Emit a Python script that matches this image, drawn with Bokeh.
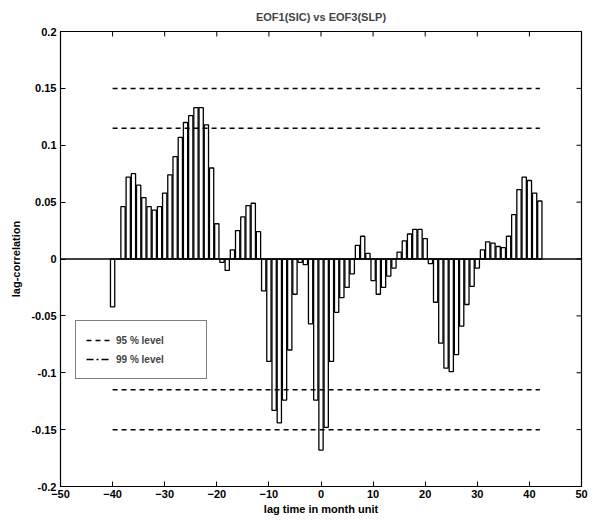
from bokeh.plotting import figure
from bokeh.models import Range1d, Span, Legend, LegendItem, FixedTicker
from bokeh.embed import file_html
from bokeh.resources import INLINE

# ---- data ----
lags = list(range(-40, 43))
corr = [
    -0.042, 0.0, 0.046, 0.072, 0.075, 0.065, 0.054, 0.046, 0.043, 0.046,   # -40..-31
    0.058, 0.074, 0.090, 0.107, 0.120, 0.126, 0.133, 0.133, 0.118, 0.080,  # -30..-21
    0.031, -0.003, -0.010, 0.008, 0.025, 0.037, 0.047, 0.049, 0.024, -0.028,  # -20..-11
    -0.090, -0.133, -0.144, -0.124, -0.080, -0.031, -0.003, -0.005, -0.057, -0.124,  # -10..-1
    -0.168, -0.148, -0.090, -0.047, -0.034, -0.025, -0.013, 0.012, 0.020, 0.005,  # 0..9
    -0.019, -0.031, -0.025, -0.015, -0.008, 0.006, 0.016, 0.022, 0.026, 0.026,  # 10..19
    0.018, -0.004, -0.038, -0.074, -0.096, -0.099, -0.084, -0.059, -0.040, -0.024,  # 20..29
    -0.008, 0.008, 0.015, 0.014, 0.011, 0.010, 0.020, 0.039, 0.061, 0.072,  # 30..39
    0.069, 0.058, 0.051,  # 40..42
]
level95 = 0.115
level99 = 0.15
x_lim = [-50, 50]
y_lim = [-0.2, 0.2]
x_ticks = [-50, -40, -30, -20, -10, 0, 10, 20, 30, 40, 50]
y_ticks = [-0.2, -0.15, -0.1, -0.05, 0, 0.05, 0.1, 0.15, 0.2]
y_tick_labels = ["-0.2", "-0.15", "-0.1", "-0.05", "0", "0.05", "0.1", "0.15", "0.2"]
title = "EOF1(SIC) vs EOF3(SLP)"
x_label = "lag time in month unit"
y_label = "lag-correlation"
legend_labels = ["95 % level", "99 % level"]

FONT = "Liberation Sans"
W, H = 601, 528
BL, BR, BT, BB = 60, 20, 31, 42
FW, FH = W - BL - BR, H - BT - BB
TICK = 5  # px

p = figure(width=W, height=H, output_backend="svg", toolbar_location=None,
           x_range=Range1d(*x_lim), y_range=Range1d(*y_lim),
           min_border_left=BL, min_border_right=BR, min_border_top=BT, min_border_bottom=BB,
           title=title)
p.background_fill_color = "white"
p.border_fill_color = "white"
p.outline_line_color = "black"
p.outline_line_width = 1.2
p.grid.visible = False

p.title.align = "center"
p.title.text_font = FONT
p.title.text_font_size = "11px"
p.title.text_font_style = "bold"
p.title.offset = 0
p.title.standoff = 17

# bars
p.vbar(x=lags, top=corr, bottom=0, width=0.82, fill_color="white",
       line_color="black", line_width=1.3)

# zero line
p.add_layout(Span(location=0, dimension="width", line_color="black", line_width=1.4))

# significance levels
x0, x1 = lags[0], lags[-1]
r95 = p.multi_line(xs=[[x0, x1], [x0, x1]], ys=[[level95, level95], [-level95, -level95]],
                   line_color="black", line_width=1.5, line_dash="5 4")
r99 = p.multi_line(xs=[[x0, x1], [x0, x1]], ys=[[level99, level99], [-level99, -level99]],
                   line_color="black", line_width=1.5, line_dash="5 4")
# legend key for the 99 % line (dash-dot key as in the original legend);
# a single-point line draws nothing in the plot itself
k99 = p.line(x=[x0], y=[level99], line_color="black", line_width=1.5, line_dash="7 3 2 3")

legend = Legend(items=[LegendItem(label=legend_labels[0], renderers=[r95]),
                       LegendItem(label=legend_labels[1], renderers=[k99])],
                location=(15, 107))
legend.border_line_color = "black"
legend.border_line_width = 1.2
legend.background_fill_color = "white"
legend.background_fill_alpha = 1
legend.label_text_font = FONT
legend.label_text_font_size = "10px"
legend.label_text_font_style = "bold"
legend.glyph_width = 24
legend.glyph_height = 18
legend.label_height = 18
legend.label_width = 80
legend.label_standoff = 6
legend.spacing = 1
legend.padding = 10
legend.margin = 0
p.add_layout(legend)

# axes
xa = p.xaxis[0]
ya = p.yaxis[0]
xa.ticker = FixedTicker(ticks=x_ticks)
ya.ticker = FixedTicker(ticks=y_ticks)
ya.major_label_overrides = {t: s for t, s in zip(y_ticks, y_tick_labels)}
for ax in (xa, ya):
    ax.major_tick_in = TICK
    ax.major_tick_out = 0
    ax.minor_tick_in = 0
    ax.minor_tick_out = 0
    ax.axis_line_color = "black"
    ax.major_tick_line_color = "black"
    ax.major_label_text_font = FONT
    ax.major_label_text_font_size = "11px"
    ax.major_label_text_font_style = "bold"
    ax.major_label_text_color = "black"
    ax.axis_label_text_font = FONT
    ax.axis_label_text_font_size = "11px"
    ax.axis_label_text_font_style = "bold"
    ax.axis_label_text_color = "black"
xa.axis_label = x_label
ya.axis_label = y_label
xa.major_label_standoff = 3
ya.major_label_standoff = 4
xa.axis_label_standoff = 2
ya.axis_label_standoff = 6

# mirrored inward ticks on the top and right edges of the box
dy = (y_lim[1] - y_lim[0]) * TICK / FH
dx = (x_lim[1] - x_lim[0]) * TICK / FW
p.segment(x0=x_ticks, y0=[y_lim[1]] * len(x_ticks), x1=x_ticks, y1=[y_lim[1] - dy] * len(x_ticks),
          line_color="black", line_width=1)
p.segment(x0=[x_lim[1]] * len(y_ticks), y0=y_ticks, x1=[x_lim[1] - dx] * len(y_ticks), y1=y_ticks,
          line_color="black", line_width=1)

open("out.html", "w").write(file_html(p, INLINE))
